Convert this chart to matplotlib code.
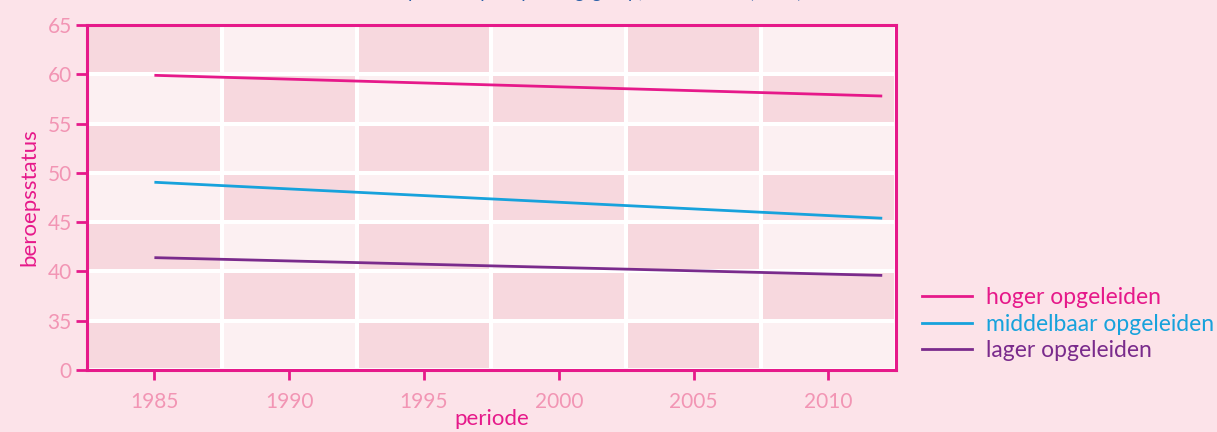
import numpy as np
import matplotlib.pyplot as plt
from matplotlib.lines import Line2D
from matplotlib.colors import ListedColormap

# data (straight trend lines, 1985-2012)
years = [1985, 2012]
hoger = [59.9, 57.8]
middelbaar = [49.05, 45.4]
lager = [41.4, 39.6]

series_names = ["hoger opgeleiden", "middelbaar opgeleiden", "lager opgeleiden"]
x_ticks = [1985, 1990, 1995, 2000, 2005, 2010]
y_ticks = [30, 35, 40, 45, 50, 55, 60, 65]
y_tick_labels = ["0", "35", "40", "45", "50", "55", "60", "65"]

MAGENTA = "#e6198a"
CYAN = "#17a2dc"
PURPLE = "#7a2b8c"
TICKPINK = "#f295b4"
BG = "#fce3e9"
CELL_DARK = "#f7d8de"
CELL_LIGHT = "#fcf0f2"

plt.rcParams["font.family"] = ["Lato", "DejaVu Sans"]

fig = plt.figure(figsize=(12.17, 4.32), dpi=100, facecolor=BG)
ax = fig.add_axes([0.0715, 0.1435, 0.6645, 0.7985])
ax.set_facecolor(BG)

# checkerboard cells, one per tick column and 5-unit row
x_edges = np.arange(1982.5, 2013.0, 5)
y_edges = np.array(y_ticks)
nrow, ncol = len(y_edges) - 1, len(x_edges) - 1
board = np.array([[(r + c) % 2 for c in range(ncol)] for r in range(nrow)])
ax.pcolormesh(x_edges, y_edges, board, cmap=ListedColormap([CELL_DARK, CELL_LIGHT]),
              edgecolors="white", linewidth=1.6, zorder=0)

ax.plot(years, hoger, color=MAGENTA, lw=2, solid_capstyle="butt", zorder=3)
ax.plot(years, middelbaar, color=CYAN, lw=2, solid_capstyle="butt", zorder=3)
ax.plot(years, lager, color=PURPLE, lw=2, solid_capstyle="butt", zorder=3)

ax.set_xlim(1982.5, 2012.5)
ax.set_ylim(30, 65)
ax.set_xticks(x_ticks)
ax.set_yticks(y_ticks, labels=y_tick_labels)

for s in ax.spines.values():
    s.set_color(MAGENTA)
    s.set_linewidth(2.2)
ax.tick_params(axis="y", length=8, width=2, color=MAGENTA, labelcolor=TICKPINK,
               labelsize=15, pad=3)
ax.tick_params(axis="x", length=7, width=2, color=MAGENTA, labelcolor=TICKPINK,
               labelsize=15, pad=9)

ax.set_ylabel("beroepsstatus", color=MAGENTA, fontsize=16, labelpad=6)
ax.set_xlabel("periode", color=MAGENTA, fontsize=16, labelpad=-2)

# title, mostly cut off at the top of the picture
fig.text(0.215, 1.0 + 2 / 432, "Gemiddelde beroepsstatus per opleidingsgroep, 1985-2012 (index)",
         color="#2a5fa8", fontsize=14, style="italic", ha="left", va="baseline")

handles = [Line2D([0], [0], color=c, lw=2) for c in (MAGENTA, CYAN, PURPLE)]
leg = fig.legend(handles, series_names, loc="upper left", bbox_to_anchor=(0.7576, 0.336),
                 frameon=False, fontsize=16.5, handlelength=2.2, handletextpad=0.6,
                 labelspacing=0.25, borderaxespad=0, borderpad=0)
for t, c in zip(leg.get_texts(), (MAGENTA, CYAN, PURPLE)):
    t.set_color(c)

fig.savefig("out.png", dpi=100, facecolor=BG)
